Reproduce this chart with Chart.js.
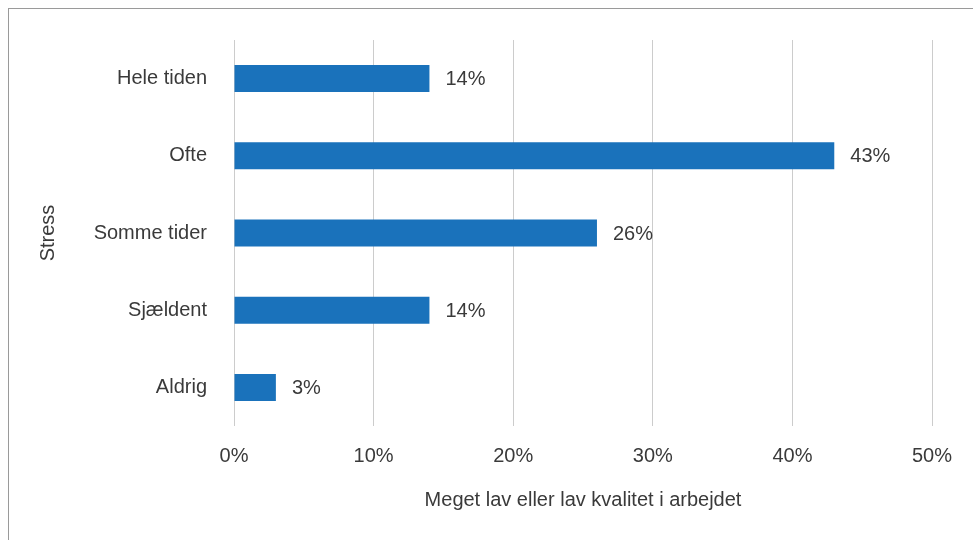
<!DOCTYPE html>
<html lang="da">
<head>
<meta charset="utf-8">
<title>Stress og kvalitet i arbejdet</title>
<script src="https://cdn.jsdelivr.net/npm/chart.js@4.4.1/dist/chart.umd.min.js"></script>
<style>
    html, body {
        margin: 0;
        padding: 0;
        background: #ffffff;
    }
    #wrap {
        position: relative;
        width: 973px;
        height: 540px;
        overflow: hidden;
    }
    #frame {
        position: absolute;
        left: 8px;
        top: 8px;
        width: 1000px;
        height: 600px;
        border-left: 1px solid #9a9a9a;
        border-top: 1px solid #9a9a9a;
    }
    #chart {
        position: absolute;
        left: 0;
        top: 0;
    }
</style>
</head>
<body>
<div id="wrap">
    <div id="frame"></div>
    <canvas id="chart" width="973" height="540"></canvas>
</div>
<script>
    // Stress categories and the share reporting very low / low quality at work
    const categories = ['Hele tiden', 'Ofte', 'Somme tider', 'Sjældent', 'Aldrig'];
    const values = [14, 43, 26, 14, 3];
    const xTicks = [0, 10, 20, 30, 40, 50];

    const xTitle = 'Meget lav eller lav kvalitet i arbejdet';
    const yTitle = 'Stress';

    const textColor = '#3a3a3a';
    const fontFamily = '"Liberation Sans", Arial, Helvetica, sans-serif';

    // Writes "NN%" just right of every bar end
    const valueLabels = {
        id: 'valueLabels',
        afterDatasetsDraw: function(chart) {
            const ctx = chart.ctx;
            const meta = chart.getDatasetMeta(0);
            ctx.save();
            ctx.font = '20px ' + fontFamily;
            ctx.fillStyle = textColor;
            ctx.textAlign = 'left';
            ctx.textBaseline = 'middle';
            meta.data.forEach(function(bar, i) {
                ctx.fillText(values[i] + '%', bar.x + 16, bar.y + 1);
            });
            ctx.restore();
        }
    };

    const ctx = document.getElementById('chart').getContext('2d');
    new Chart(ctx, {
        type: 'bar',
        data: {
            labels: categories,
            datasets: [{
                data: values,
                backgroundColor: '#1a72bb',
                borderWidth: 0,
                barPercentage: 1,
                categoryPercentage: 0.35
            }]
        },
        options: {
            indexAxis: 'y',
            responsive: false,
            animation: false,
            layout: {
                padding: { top: 40, right: 41, left: 0, bottom: 0 }
            },
            plugins: {
                legend: { display: false },
                tooltip: { enabled: false }
            },
            scales: {
                x: {
                    min: 0,
                    max: 50,
                    afterBuildTicks: function(scale) {
                        scale.ticks = xTicks.map(v => ({ value: v }));
                    },
                    afterFit: function(scale) {
                        scale.height = 114;
                    },
                    grid: {
                        color: '#cccccc',
                        lineWidth: 1,
                        drawTicks: false
                    },
                    border: { display: false },
                    ticks: {
                        padding: 18,
                        color: textColor,
                        font: { family: fontFamily, size: 20 },
                        callback: v => v + '%'
                    },
                    title: {
                        display: true,
                        text: xTitle,
                        color: textColor,
                        font: { family: fontFamily, size: 20 },
                        padding: { top: 0, bottom: 28 }
                    }
                },
                y: {
                    afterFit: function(scale) {
                        scale.width = 234;
                    },
                    grid: { display: false, drawTicks: false },
                    border: { display: false },
                    ticks: {
                        padding: 27,
                        color: textColor,
                        font: { family: fontFamily, size: 20 }
                    },
                    title: {
                        display: true,
                        text: yTitle,
                        color: textColor,
                        font: { family: fontFamily, size: 20 },
                        padding: { top: 36, bottom: 0 }
                    }
                }
            }
        },
        plugins: [valueLabels]
    });
</script>
</body>
</html>
